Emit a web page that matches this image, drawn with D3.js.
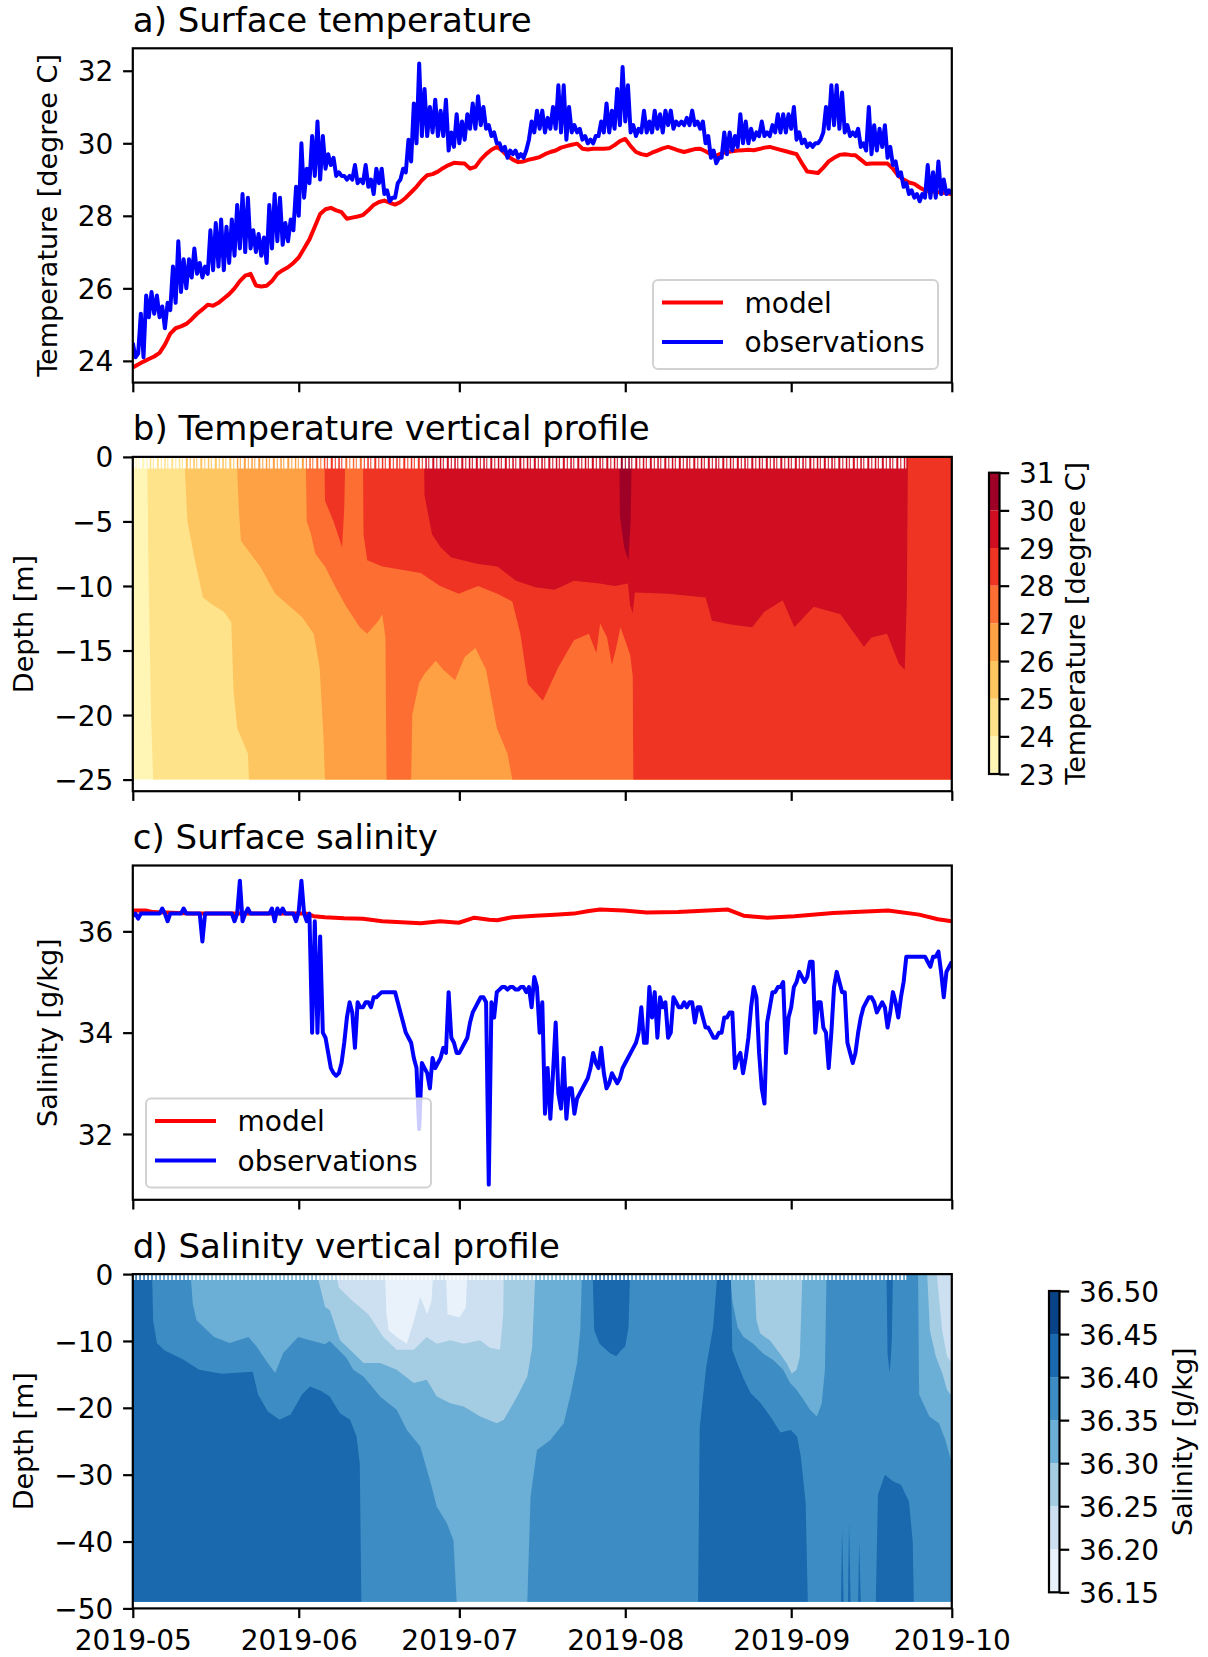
<!DOCTYPE html>
<html>
<head>
<meta charset="utf-8">
<script src="https://cdn.jsdelivr.net/npm/d3@7"></script>
<style>
  body { margin: 0; background: #fff; }
  text { font-family: "DejaVu Sans", sans-serif; }
</style>
</head>
<body>
<svg id="fig" width="1208" height="1657"></svg>
<script>
// ---- data (days counted from 2019-05-01) ----
var xTicks = ["2019-05-01", "2019-06-01", "2019-07-01", "2019-08-01", "2019-09-01", "2019-10-01"];
var tempTicks = [24, 26, 28, 30, 32];
var salTicks = [32, 34, 36];
var depthTicksT = [0, -5, -10, -15, -20, -25];
var depthTicksS = [0, -10, -20, -30, -40, -50];
var tLevels = [23, 24, 25, 26, 27, 28, 29, 30, 31];
var sLevels = [36.15, 36.20, 36.25, 36.30, 36.35, 36.40, 36.45, 36.50];

// model surface temperature, daily
var tempModel = [23.82,23.9,23.98,24.05,24.12,24.22,24.45,24.75,24.9,24.95,
  25.02,25.15,25.3,25.42,25.55,25.52,25.6,25.72,25.84,26.0,
  26.2,26.35,26.4,26.08,26.05,26.07,26.2,26.4,26.5,26.58,
  26.7,26.85,27.1,27.35,27.7,28.05,28.18,28.22,28.15,28.1,
  27.92,27.95,27.98,28.02,28.15,28.3,28.38,28.42,28.36,28.31,
  28.38,28.5,28.65,28.8,28.98,29.12,29.15,29.22,29.32,29.4,
  29.46,29.45,29.44,29.3,29.35,29.55,29.7,29.82,29.9,29.8,
  29.65,29.55,29.48,29.5,29.55,29.58,29.62,29.7,29.76,29.8,
  29.88,29.92,29.96,29.99,29.85,29.83,29.85,29.85,29.85,29.86,
  29.95,30.06,30.12,29.92,29.76,29.7,29.67,29.74,29.8,29.86,
  29.9,29.85,29.8,29.76,29.8,29.84,29.85,29.78,29.7,29.66,
  29.72,29.76,29.78,29.8,29.81,29.82,29.81,29.84,29.88,29.9,
  29.86,29.82,29.78,29.74,29.7,29.45,29.22,29.2,29.18,29.33,
  29.5,29.6,29.68,29.7,29.68,29.67,29.55,29.43,29.44,29.44,
  29.44,29.44,29.3,29.1,29.0,28.92,28.88,28.78,28.7,28.68,
  28.66,28.64,28.62,28.6];

// observed surface temperature, every 12 hours
var tempObs = [24.5,24.1, 24.2,25.3, 24.1,25.8, 25.2,25.9, 25.3,25.8, 25.2,25.5, 24.9,25.6, 25.4,26.6, 25.6,27.3, 25.9,26.8,
  26.0,26.8, 26.3,27.1, 26.4,26.7, 26.3,26.6, 26.4,27.6, 26.5,27.8, 26.6,27.9, 26.5,27.7, 26.7,27.9, 26.9,28.3,
  27.1,28.6, 27.0,28.5, 27.1,27.6, 27.0,27.5, 26.9,27.4, 26.7,28.3, 27.1,28.6, 27.3,28.5, 27.2,27.8, 27.3,27.9,
  27.6,28.8, 28.0,30.0, 28.5,29.3, 28.9,30.2, 29.1,30.6, 29.0,30.2, 29.3,29.7, 29.4,29.6, 29.1,29.2, 29.1,29.1,
  29.0,29.1, 29.0,29.4, 28.9,29.0, 28.9,29.4, 28.8,29.0, 28.6,29.3, 28.9,29.3, 28.6,28.7, 28.4,28.5, 28.5,28.9,
  29.0,29.3, 29.2,30.1, 29.5,31.1, 30.0,32.2, 30.2,31.5, 30.2,31.0, 30.3,31.2, 30.2,30.9, 30.2,31.2, 29.8,30.3,
  29.9,30.8, 30.0,30.6, 30.1,30.8, 30.4,31.1, 30.4,31.3, 30.5,31.0, 30.4,30.5, 30.2,30.3, 30.0,30.0, 29.8,29.9,
  29.6,29.8, 29.7,29.8, 29.6,29.7, 29.6,29.8, 30.1,30.6, 30.3,30.9, 30.4,30.9, 30.3,30.7, 30.4,31.0, 30.4,31.6,
  30.3,31.6, 30.1,31.0, 30.3,30.5, 30.3,30.4, 30.1,30.2, 30.0,30.1, 30.0,30.2, 30.2,30.6, 30.3,31.1, 30.3,30.9,
  30.4,31.5, 30.5,32.1, 30.6,31.6, 30.3,30.5, 30.2,30.4, 30.3,30.9, 30.3,30.6, 30.3,30.9, 30.4,30.8, 30.3,30.9,
  30.5,30.9, 30.4,30.6, 30.5,30.6, 30.5,30.7, 30.5,30.9, 30.5,30.6, 30.4,30.6, 30.0,30.2, 29.6,29.8, 29.45,29.6,
  29.6,30.3, 29.7,30.3, 29.8,30.2, 29.9,30.8, 30.0,30.6, 30.0,30.4, 30.1,30.3, 30.2,30.6, 30.2,30.3, 30.2,30.5,
  30.3,30.8, 30.3,30.8, 30.3,30.8, 30.4,31.0, 30.1,30.3, 30.0,30.1, 29.9,30.0, 29.9,30.0, 30.0,30.1, 30.3,31.0,
  30.4,31.6, 30.5,31.6, 30.4,31.4, 30.3,30.5, 30.2,30.3, 30.2,30.4, 29.9,30.0, 29.8,31.0, 29.7,30.5, 29.8,30.4,
  29.9,30.5, 29.6,29.9, 29.4,29.5, 29.1,29.2, 28.8,28.9, 28.6,28.7, 28.5,28.6, 28.4,28.6, 28.5,29.4, 28.5,29.2,
  28.5,29.5, 28.6,29.0, 28.6,28.7, 28.6];

// model surface salinity (day, value)
var salModelDays = [0,2.4,3.8,10.9,20,32.4,33.8,35.9,39.5,43,46.6,50.2,53.8,57.4,60.9,63.8,66.6,68.1,70.9,75.2,
  78.8,82.4,85.2,87.3,91.7,96,101.8,111.2,114.1,118.5,123.6,130.8,141.1,146.9,150.4,153];
var salModel = [36.41,36.41,36.38,36.35,36.35,36.35,36.3,36.28,36.26,36.25,36.2,36.18,36.16,36.2,36.17,36.27,36.23,36.22,36.28,36.31,
  36.33,36.35,36.4,36.43,36.41,36.37,36.38,36.43,36.31,36.27,36.3,36.36,36.41,36.33,36.24,36.2];

// observed surface salinity, every 12 hours
var salObs = [36.3,36.35, 36.25,36.35, 36.35,36.35, 36.35,36.35, 36.35,36.35, 36.35,36.45, 36.35,36.2, 36.35,36.35, 36.35,36.35, 36.35,36.45,
  36.35,36.35, 36.35,36.35, 36.35,36.35, 35.8,36.35, 36.35,36.35, 36.35,36.35, 36.35,36.35, 36.35,36.35, 36.35,36.35, 36.2,36.35,
  37.0,36.2, 36.35,36.45, 36.35,36.35, 36.35,36.35, 36.35,36.35, 36.35,36.35, 36.45,36.2, 36.45,36.35, 36.45,36.35, 36.35,36.35,
  36.35,36.2, 36.4,37.0, 36.35,36.2, 36.35,34.0, 36.2,34.0, 35.9,34.0, 33.9,33.6, 33.3,33.2, 33.15,33.2, 33.4,33.8,
  34.3,34.6, 34.4,33.7, 34.6,34.5, 34.5,34.6, 34.6,34.5, 34.7,34.7, 34.75,34.8, 34.8,34.8, 34.8,34.8, 34.8,34.6,
  34.4,34.2, 34.0,33.9, 33.8,33.5, 33.3,32.1, 33.4,33.3, 33.2,32.9, 33.5,33.3, 33.4,33.5, 33.7,33.6, 34.8,33.9,
  33.8,33.6, 33.6,33.7, 33.8,33.9, 34.2,34.4, 34.5,34.6, 34.7,34.7, 34.6,31.0, 34.6,34.3, 34.8,34.85, 34.9,34.9,
  34.85,34.9, 34.9,34.85, 34.85,34.9, 34.9,34.8, 34.9,34.5, 35.1,34.9, 34.0,34.6, 32.4,33.3, 32.3,33.2, 34.2,32.8,
  32.5,33.5, 32.3,32.9, 32.9,32.4, 32.7,32.8, 32.9,33.0, 33.1,33.3, 33.6,33.4, 33.3,33.7, 33.2,32.9, 33.0,33.2,
  33.1,33.0, 33.1,33.3, 33.4,33.5, 33.6,33.7, 33.8,34.0, 34.5,33.8, 33.8,34.9, 34.3,34.8, 33.9,34.7, 34.5,34.6,
  33.9,34.0, 34.7,34.6, 34.5,34.5, 34.6,34.5, 34.6,34.6, 34.2,34.5, 34.5,34.3, 34.1,34.1, 34.0,33.9, 33.9,34.0,
  34.0,34.3, 34.3,34.4, 34.4,33.3, 33.5,33.6, 33.2,33.5, 33.9,34.5, 34.9,34.7, 33.6,32.9, 32.6,34.2, 34.5,34.8,
  34.8,34.9, 34.9,35.0, 33.6,34.3, 34.5,34.9, 35.0,35.2, 35.1,35.0, 35.1,35.4, 35.4,34.0, 34.6,34.6, 34.1,34.0,
  33.3,34.0, 34.9,35.2, 35.0,34.8, 34.8,33.8, 33.6,33.4, 33.6,34.0, 34.3,34.5, 34.6,34.7, 34.7,34.6, 34.4,34.5,
  34.6,34.5, 34.1,34.4, 34.8,34.6, 34.3,34.7, 35.0,35.5, 35.5,35.5, 35.5,35.5, 35.5,35.5, 35.5,35.4, 35.3,35.5,
  35.5,35.6, 35.2,34.7, 35.2,35.3, 35.4];

// temperature profile: depth (m) of each isotherm over time [day, depth]; water above is warmer
var tDataDepth = -25;
var tIso24 = [[0,0],[2.7,0],[2.9,-8],[3.4,-20],[3.8,-25],[153,-25]];
var tIso25 = [[0,0],[9.6,0],[10.2,-5],[11.6,-8],[13.1,-10.9],[15,-11.5],[17,-12],[18.4,-12.8],[18.8,-18],[19.5,-21],[21.5,-23],[21.7,-25],[153,-25]];
var tIso26 = [[0,0],[19.4,0],[19.8,-4],[20.2,-6.5],[23.8,-8.5],[26.6,-10.6],[31.6,-12.4],[33.8,-13.7],[34.9,-16.3],[35.6,-21.5],[35.9,-25],[153,-25]];
var tIso27 = [[0,0],[32.3,0],[32.5,-5],[33.3,-6],[34.1,-7.5],[35.9,-8.5],[38,-10.2],[39.9,-11.6],[42.4,-13.2],[43.8,-13.7],[45.9,-12.7],
  [46.6,-12.2],[47.2,-14],[47.4,-25],[52,-25],[52.2,-20],[53.5,-17.5],[54.5,-16.8],[56.6,-15.8],[58,-16.5],[60.2,-17.3],[62,-15.5],
  [64,-14.8],[66,-16.5],[68,-21],[70,-23],[70.9,-25],[153,-25]];
var tIso28 = [[0,0],[35.8,0],[35.9,-3.4],[37.5,-5],[39.1,-7],[39.5,-4],[39.7,0],[43,0],[43.1,-6],[43.8,-8],[46.6,-8.5],[53.8,-9],
  [57.4,-10],[60.9,-10.6],[64.5,-10],[68.1,-10.6],[70.9,-11.2],[72.4,-13.7],[73.8,-17.6],[76.6,-18.9],[79.5,-16.3],[82.4,-14.2],
  [85.2,-13.7],[86.6,-15.2],[87.3,-12.9],[88.6,-14],[89.5,-16.1],[90.2,-15],[91.1,-13.2],[92.9,-15.3],[93.4,-17],[93.5,-25],[153,-25]];
var tIso29 = [[0,0],[54.4,0],[54.5,-3],[55.9,-6],[57.5,-7],[59.5,-7.8],[64.5,-8.3],[68.1,-8.5],[71.6,-9.6],[75.2,-10.1],[78.8,-10.3],
  [82.4,-9.6],[87.2,-9.8],[90,-10],[92.5,-9.8],[92.9,-11.5],[93.4,-12.1],[93.8,-10.5],[100,-10.6],[107,-10.9],[108.2,-12.7],[112,-13],
  [115.7,-13.2],[118,-12],[121.4,-11.1],[123.6,-13.2],[127.2,-11.6],[132.2,-12.2],[136.6,-14.7],[138,-14],[140.9,-13.7],[143.1,-16],
  [144.2,-16.5],[144.6,-11],[144.8,0],[153,0]];
var tIso30 = [[0,0],[90.9,0],[91,-4.6],[91.8,-7],[92.6,-8],[93,-5],[93.2,0],[153,0]];

// salinity profile: depth of each isohaline [day, depth]; water below is saltier
var sDataDepth = -49;
var sIso20 = [[0,0],[47.1,0],[47.4,-6],[47.8,-8.4],[49.3,-9.4],[51.2,-10.4],[52.5,-7],[53.7,-3.4],[55,-6],[55.8,-4],[56.1,0],
  [58.5,0],[58.8,-6],[61,-6.5],[62.2,-5],[62.5,0],[153,0]];
var sIso25 = [[0,0],[38,0],[38.5,-2],[41,-4],[44,-6],[46.8,-9.4],[49.3,-11.3],[52.5,-11.3],[54.9,-9.4],[56.8,-10.4],[59.3,-9.9],
  [61.8,-10.4],[64.9,-9.9],[66.7,-11],[68.6,-11.3],[69.2,-6],[69.3,0],[150.2,0],[150.6,-3.4],[151.2,-8.4],[152.1,-12.3],[153,-13.3]];
var sIso30 = [[0,0],[34.4,0],[35.9,-4.9],[36.8,-5.4],[38.7,-9.9],[41.2,-11.8],[43.1,-13.3],[46.2,-13.3],[49.3,-14.3],[52.5,-16.3],
  [54.9,-15.8],[56.8,-18.3],[59.3,-19.3],[61.8,-19.8],[64.9,-21.3],[68,-22.3],[69.3,-21.8],[71.8,-18.3],[73.7,-15.3],[74.6,-11],
  [75.2,0],[116.1,0],[116.5,-6.9],[117.2,-8.9],[119,-9.9],[120.9,-11.9],[122.2,-13.4],[123.1,-14.9],[124,-14.3],[124.6,-12.4],
  [125.1,0],[148.4,0],[148.9,-8.4],[150,-12.3],[151.2,-14.8],[152.1,-17.3],[153,-18.3]];
var sIso35 = [[0,0],[10.8,0],[11.2,-4.4],[11.9,-6.9],[15.2,-9.4],[18.1,-10.3],[21.6,-9.4],[23.1,-10.8],[25.2,-13.3],[26.6,-14.8],
  [28.1,-11.8],[30.9,-9.4],[33.1,-9.9],[35.9,-10.5],[36.8,-10],[39.9,-12.5],[41.2,-14.3],[43.1,-15.3],[46.2,-18.3],[49.3,-20.3],
  [51.2,-23.3],[53.7,-25.8],[55.5,-30.8],[56.8,-34.8],[58.7,-37.3],[59.9,-39.8],[60.5,-49],[73.7,-49],[74.3,-33.3],[75.5,-26.3],
  [78,-24.8],[80.5,-22.3],[81.7,-18.3],[83,-13.3],[83.6,-8.4],[83.9,0],[111.6,0],[112,-4],[113,-8],[114.1,-9.4],[115.9,-10.4],
  [117.8,-11.9],[119.7,-12.9],[121.5,-14.3],[122.8,-16.3],[124,-17.3],[125.3,-18.8],[126.5,-20.3],[127.8,-21.3],[128.7,-19.3],
  [129.3,-14.3],[129.6,0],[146.7,0],[146.9,-18],[148.8,-21.3],[150.6,-22.3],[151.8,-24.8],[153,-28.3]];
var sIso40 = [[0,0],[3.6,0],[3.8,-6.9],[4.5,-10.3],[5.9,-11.4],[9.5,-12.8],[12.4,-14.3],[16.6,-14.9],[22.4,-14.6],[23.4,-18],
  [25.2,-20.5],[27.4,-21.8],[29.5,-21],[31.6,-18],[33.1,-16.8],[35.2,-17.5],[36.8,-18.3],[38.7,-20.8],[40.6,-21.8],[41.8,-24.3],
  [42.4,-28.3],[42.7,-49],[105.6,-49],[105.9,-23],[107.1,-14],[108.4,-8],[109.2,0],[111.7,0],[112,-11.3],[112.9,-13.3],[114.2,-15.8],
  [115.4,-17.8],[117.3,-19.3],[119.1,-21.3],[121,-23.7],[122.9,-23.3],[124.1,-24.3],[124.8,-27.3],[125.7,-34.2],[126.1,-49],
  [132.3,-49],[132.5,-38],[132.8,-49],[133.6,-49],[133.8,-37],[134.1,-49],[135.5,-49],[135.7,-40],[136,-49],[138.8,-49],[139.2,-33],
  [140.5,-30],[142,-31],[143.5,-31.5],[145,-34],[145.7,-40],[145.9,-49],[153,-49]];
// salty surface lenses (36.40-36.45) sitting above fresher water
var sLensAug = [[85.9,0],[86.2,-8.4],[87.2,-10.4],[89.1,-11.8],[90.3,-12.3],[91.1,-11.5],[92,-10.8],[92.6,-8],[92.9,0]];
var sLensSep = [[140.8,0],[141,-12],[141.4,-14.8],[141.8,-10],[142,0]];
// span of days with gappy surface cells
var surfaceGapDays = [0, 144.5];

// ---- layout ----
var svg = d3.select("#fig");
var left = 132.8, right = 951.8, axH = 334.3;
var tops = [48.3, 456.9, 865.5, 1274.1];
var lw = 2.2, tick = 9.7, fsTick = 28, fsLabel = 27, fsTitle = 34;
var t0 = Date.UTC(2019, 4, 1);
var toDate = function(d) { return new Date(t0 + d * 864e5); };
var x = d3.scaleUtc().domain([toDate(0), toDate(153)]).range([left, right]);
var xTickDates = xTicks.map(function(s) { return new Date(s + "T00:00:00Z"); });

var ylOrRd = ["#ffffcc","#ffeda0","#fed976","#feb24c","#fd8d3c","#fc4e2a","#e31a1c","#bd0026","#800026"];
var blues = ["#f7fbff","#deebf7","#c6dbef","#9ecae1","#6baed6","#4292c6","#2171b5","#08519c","#08306b"];
function cmap(stops) {
  return d3.scaleLinear().domain(d3.range(9).map(function(i) { return i / 8; })).range(stops).interpolate(d3.interpolateRgb);
}
var cT = cmap(ylOrRd), cS = cmap(blues);
var nT = tLevels.length - 1, nS = sLevels.length - 1;
var tColors = d3.range(nT).map(function(i) { return cT((i + 0.5) / nT); });
var sColors = d3.range(nS).map(function(i) { return cS((i + 0.5) / nS); });

function styleAxis(g) {
  g.select(".domain").remove();
  g.selectAll(".tick line").attr("stroke", "#000").attr("stroke-width", lw);
  g.selectAll(".tick text").attr("font-family", "DejaVu Sans").attr("font-size", fsTick).attr("fill", "#000");
}

function panel(i, y, yTicks, title, ylabel, labelX, showX) {
  var top = tops[i];
  var g = svg.append("g");
  g.append("clipPath").attr("id", "clip" + i).append("rect")
    .attr("x", left).attr("y", top).attr("width", right - left).attr("height", axH);
  var plot = g.append("g").attr("clip-path", "url(#clip" + i + ")");
  var axes = g.append("g");
  var xa = d3.axisBottom(x).tickValues(xTickDates).tickSize(tick).tickPadding(tick)
    .tickFormat(showX ? d3.utcFormat("%Y-%m") : function() { return ""; });
  axes.append("g").attr("transform", "translate(0," + (top + axH) + ")").call(xa)
    .call(styleAxis).selectAll(".tick text").attr("dy", "0.78em");
  var ya = d3.axisLeft(y).tickValues(yTicks).tickSize(tick).tickPadding(tick).tickFormat(d3.format("d"));
  axes.append("g").attr("transform", "translate(" + left + ",0)").call(ya)
    .call(styleAxis).selectAll(".tick text").attr("dy", "0.36em");
  axes.append("rect").attr("x", left).attr("y", top).attr("width", right - left).attr("height", axH)
    .attr("fill", "none").attr("stroke", "#000").attr("stroke-width", lw);
  g.append("text").attr("x", left).attr("y", top - 16.6).attr("font-size", fsTitle).text(title);
  g.append("text").attr("transform", "translate(" + labelX + "," + (top + axH / 2) + ") rotate(-90)")
    .attr("text-anchor", "middle").attr("font-size", fsLabel).text(ylabel);
  return plot;
}

function legend(lx, ly) {
  var g = svg.append("g");
  g.append("rect").attr("x", lx).attr("y", ly).attr("width", 285).attr("height", 89).attr("rx", 5)
    .attr("fill", "#fff").attr("fill-opacity", 0.8).attr("stroke", "#d2d2d2").attr("stroke-width", 2);
  [["model", "#ff0000"], ["observations", "#0000ff"]].forEach(function(e, k) {
    var yy = ly + 22.5 + k * 39.6;
    g.append("line").attr("x1", lx + 9).attr("x2", lx + 70).attr("y1", yy).attr("y2", yy)
      .attr("stroke", e[1]).attr("stroke-width", 4);
    g.append("text").attr("x", lx + 91.5).attr("y", yy + 10).attr("font-size", fsTick).text(e[0]);
  });
}

function drawLine(plot, pts, y, color) {
  plot.append("path").datum(pts)
    .attr("d", d3.line().x(function(d) { return x(toDate(d[0])); }).y(function(d) { return y(d[1]); }))
    .attr("fill", "none").attr("stroke", color).attr("stroke-width", 4).attr("stroke-linejoin", "round");
}

function extentPad(arrs) {
  var all = [].concat.apply([], arrs);
  var lo = d3.min(all), hi = d3.max(all), m = (hi - lo) * 0.05;
  return [lo - m, hi + m];
}

function colorbar(cx, cy0, cy1, levels, colors, fmt, label, labelX) {
  var cb = d3.scaleLinear().domain([levels[0], levels[levels.length - 1]]).range([cy1, cy0]);
  var g = svg.append("g");
  g.selectAll("rect.band").data(colors).enter().append("rect").attr("class", "band")
    .attr("x", cx).attr("width", 10.5)
    .attr("y", function(d, i) { return cb(levels[i + 1]); })
    .attr("height", function(d, i) { return cb(levels[i]) - cb(levels[i + 1]); })
    .attr("fill", function(d) { return d; });
  g.append("rect").attr("x", cx).attr("y", cy0).attr("width", 10.5).attr("height", cy1 - cy0)
    .attr("fill", "none").attr("stroke", "#000").attr("stroke-width", lw);
  g.append("g").attr("transform", "translate(" + (cx + 10.5) + ",0)")
    .call(d3.axisRight(cb).tickValues(levels).tickSize(tick).tickPadding(tick).tickFormat(d3.format(fmt)))
    .call(styleAxis).selectAll(".tick text").attr("dy", "0.36em");
  g.append("text").attr("transform", "translate(" + labelX + "," + ((cy0 + cy1) / 2) + ") rotate(-90)")
    .attr("text-anchor", "middle").attr("font-size", fsLabel).text(label);
}

function surfaceComb(plot, y, depth, dash) {
  plot.append("line")
    .attr("x1", x(toDate(surfaceGapDays[0]))).attr("x2", x(toDate(surfaceGapDays[1])))
    .attr("y1", y(depth / 2)).attr("y2", y(depth / 2))
    .attr("stroke", "#fff").attr("stroke-width", y(depth) - y(0)).attr("stroke-dasharray", dash);
}

// ---- a) surface temperature ----
var halfDay = function(v, i) { return [i / 2, v]; };
var tModelPts = tempModel.map(function(v, i) { return [i, v]; });
var tObsPts = tempObs.map(halfDay);
var yA = d3.scaleLinear().domain(extentPad([tempModel, tempObs])).range([tops[0] + axH, tops[0]]);
var pA = panel(0, yA, tempTicks, "a) Surface temperature", "Temperature [degree C]", 56.5, false);
drawLine(pA, tModelPts, yA, "#ff0000");
drawLine(pA, tObsPts, yA, "#0000ff");
legend(653, 280);

// ---- b) temperature profile ----
var yB = d3.scaleLinear().domain([-25.9, 0]).range([tops[1] + axH, tops[1]]);
var pB = panel(1, yB, depthTicksT, "b) Temperature vertical profile", "Depth [m]", 33, false);
var fromTop = d3.area().x(function(d) { return x(toDate(d[0])); }).y0(yB(0)).y1(function(d) { return yB(d[1]); });
pB.append("path").datum([[0, tDataDepth], [153, tDataDepth]]).attr("d", fromTop).attr("fill", tColors[0]);
[tIso24, tIso25, tIso26, tIso27, tIso28, tIso29, tIso30].forEach(function(iso, k) {
  pB.append("path").datum(iso).attr("d", fromTop).attr("fill", tColors[k + 1]);
});
surfaceComb(pB, yB, -0.9, "2.5,1.5,1.5,1,3,2,2,1");
colorbar(989, 472.7, 774, tLevels, tColors, "d", "Temperature [degree C]", 1085);

// ---- c) surface salinity ----
var sModelPts = salModelDays.map(function(d, i) { return [d, salModel[i]]; });
var sObsPts = salObs.map(halfDay);
var yC = d3.scaleLinear().domain(extentPad([salModel, salObs])).range([tops[2] + axH, tops[2]]);
var pC = panel(2, yC, salTicks, "c) Surface salinity", "Salinity [g/kg]", 56.5, false);
drawLine(pC, sModelPts, yC, "#ff0000");
drawLine(pC, sObsPts, yC, "#0000ff");
legend(146, 1098.5);

// ---- d) salinity profile ----
var yD = d3.scaleLinear().domain([-50, 0]).range([tops[3] + axH, tops[3]]);
var pD = panel(3, yD, depthTicksS, "d) Salinity vertical profile", "Depth [m]", 33, true);
var fromBottom = d3.area().x(function(d) { return x(toDate(d[0])); }).y0(yD(sDataDepth)).y1(function(d) { return yD(d[1]); });
var fromSurface = d3.area().x(function(d) { return x(toDate(d[0])); }).y0(yD(0)).y1(function(d) { return yD(d[1]); });
pD.append("path").datum([[0, 0], [153, 0]]).attr("d", fromBottom).attr("fill", sColors[0]);
[sIso20, sIso25, sIso30, sIso35, sIso40].forEach(function(iso, k) {
  pD.append("path").datum(iso).attr("d", fromBottom).attr("fill", sColors[k + 1]);
});
[sLensAug, sLensSep].forEach(function(lens) {
  pD.append("path").datum(lens).attr("d", fromSurface).attr("fill", sColors[5]);
});
surfaceComb(pD, yD, -0.9, "2.5,1.5");
colorbar(1049, 1291, 1592.3, sLevels, sColors, ".2f", "Salinity [g/kg]", 1192);
</script>
</body>
</html>
